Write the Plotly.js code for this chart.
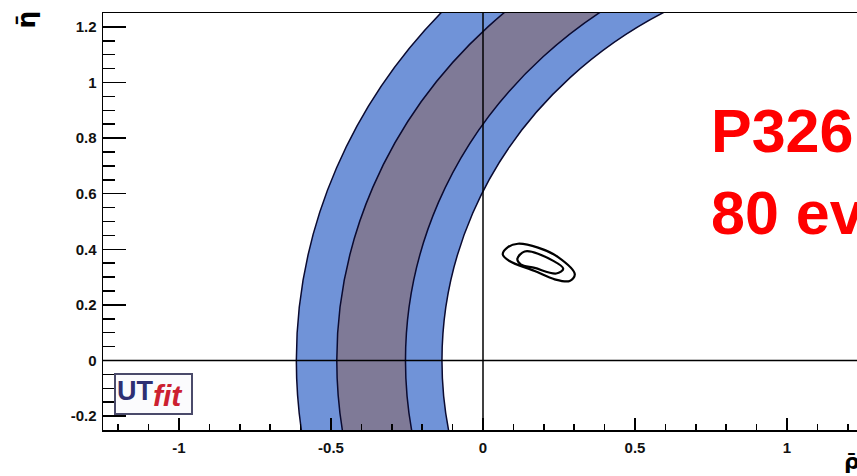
<!DOCTYPE html>
<html>
<head>
<meta charset="utf-8">
<script src="https://cdn.plot.ly/plotly-3.0.1.min.js"></script>
<style>
html,body{margin:0;padding:0;background:#fff;overflow:hidden;width:857px;height:476px;}
#chart{width:900px;height:476px;}
</style>
</head>
<body>
<div id="chart"></div>
<script>
// Band edges (circles centred on the rho axis): outer light edge, dark edge, dark edge, light edge
const edgeCenters = [1.267, 1.216, 1.290, 1.304];
const edgeRadii   = [1.881, 1.697, 1.545, 1.439];
const edgeFills   = ['#7093d8', '#7f7a97', '#7093d8', '#ffffff'];

// Fit contours near the apex (rho, eta)
const outerRho = [0.065, 0.082, 0.115, 0.181, 0.247, 0.302, 0.285, 0.236, 0.170, 0.087, 0.065];
const outerEta = [0.382, 0.408, 0.420, 0.406, 0.372, 0.310, 0.286, 0.292, 0.322, 0.358, 0.382];
const innerRho = [0.113, 0.137, 0.181, 0.264, 0.241, 0.170, 0.124, 0.113];
const innerEta = [0.366, 0.392, 0.384, 0.330, 0.313, 0.333, 0.346, 0.366];

// Axis ticks
const xTickVals = [-1, -0.5, 0, 0.5, 1];
const xTickText = ['-1', '-0.5', '0', '0.5', '1'];
const yTickVals = [-0.2, 0, 0.2, 0.4, 0.6, 0.8, 1, 1.2];
const yTickText = ['-0.2', '0', '0.2', '0.4', '0.6', '0.8', '1', '1.2'];

const shapes = [];
for (let i = 0; i < edgeCenters.length; i++) {
  const c = edgeCenters[i], r = edgeRadii[i];
  shapes.push({type: 'circle', xref: 'x', yref: 'y', layer: 'below',
    x0: c - r, x1: c + r, y0: -r, y1: r,
    fillcolor: edgeFills[i], line: {color: '#0a0a30', width: 1.5}});
}
shapes.push({type: 'line', xref: 'x', yref: 'paper', x0: 0, x1: 0, y0: 0, y1: 1, layer: 'above', line: {color: '#000', width: 1.5}});
shapes.push({type: 'line', xref: 'paper', yref: 'y', x0: 0, x1: 1, y0: 0, y1: 0, layer: 'above', line: {color: '#000', width: 1.5}});

const traces = [
  {x: outerRho, y: outerEta, mode: 'lines', line: {color: '#000', width: 2.2, shape: 'spline', smoothing: 1}, hoverinfo: 'skip'},
  {x: innerRho, y: innerEta, mode: 'lines', line: {color: '#000', width: 2.2, shape: 'spline', smoothing: 1}, hoverinfo: 'skip'}
];

const tickFont = {family: 'Liberation Sans, Arial, sans-serif', size: 15, color: '#111', weight: 'bold'};

const layout = {
  width: 900, height: 476,
  margin: {l: 103, r: 37, t: 13, b: 46},
  paper_bgcolor: '#fff', plot_bgcolor: '#fff',
  showlegend: false,
  xaxis: {range: [-1.25, 1.25], tickmode: 'array', tickvals: xTickVals, ticktext: xTickText,
    ticks: 'inside', ticklen: 12, tickwidth: 1.5, tickcolor: '#000',
    minor: {tickmode: 'linear', tick0: 0, dtick: 0.1, ticks: 'inside', ticklen: 6, tickwidth: 1.5, tickcolor: '#000'},
    showline: true, linecolor: '#000', linewidth: 1.5, mirror: true,
    showgrid: false, zeroline: false, tickfont: tickFont, ticklabelstandoff: 3, fixedrange: true},
  yaxis: {range: [-0.25, 1.25], tickmode: 'array', tickvals: yTickVals, ticktext: yTickText,
    ticks: 'inside', ticklen: 23, tickwidth: 1.5, tickcolor: '#000',
    minor: {tickmode: 'linear', tick0: 0, dtick: 0.05, ticks: 'inside', ticklen: 12, tickwidth: 1.5, tickcolor: '#000'},
    showline: true, linecolor: '#000', linewidth: 1.5, mirror: false,
    showgrid: false, zeroline: false, tickfont: tickFont, ticklabelstandoff: 2, fixedrange: true},
  shapes: shapes,
  annotations: [
    {xref: 'x', yref: 'y', x: 0.745, y: 0.825, xanchor: 'left', yanchor: 'middle', showarrow: false,
      text: 'P326', font: {family: 'Liberation Sans, Arial, sans-serif', size: 61, color: '#ff0000', weight: 'bold'}},
    {xref: 'x', yref: 'y', x: 0.745, y: 0.53, xanchor: 'left', yanchor: 'middle', showarrow: false,
      text: '80 events', font: {family: 'Liberation Sans, Arial, sans-serif', size: 61, color: '#ff0000', weight: 'bold'}},
    {xref: 'paper', yref: 'paper', x: -0.101, y: 0.985, xanchor: 'center', yanchor: 'middle', showarrow: false,
      textangle: -90, text: 'η\u0304', font: {family: 'DejaVu Sans, sans-serif', size: 25, color: '#000', weight: 'bold'}},
    {xref: 'paper', yref: 'paper', x: 0.9855, y: -0.04, xanchor: 'center', yanchor: 'top', showarrow: false,
      text: 'ρ\u0304', font: {family: 'DejaVu Sans, sans-serif', size: 22, color: '#000', weight: 'bold'}},
    {xref: 'x', yref: 'y', x: -1.213, y: -0.121, xanchor: 'left', yanchor: 'middle', showarrow: false,
      text: '<b>UT</b><sub><span style="color:#cc2030;font-size:30px"><b><i>fit </i></b></span></sub>',
      font: {family: 'Liberation Sans, Arial, sans-serif', size: 27, color: '#2e2f73'},
      bordercolor: '#4a4a6a', borderwidth: 2, borderpad: 1, bgcolor: '#fbfbfd'}
  ]
};

Plotly.newPlot('chart', traces, layout, {staticPlot: true, displayModeBar: false});
</script>
</body>
</html>
